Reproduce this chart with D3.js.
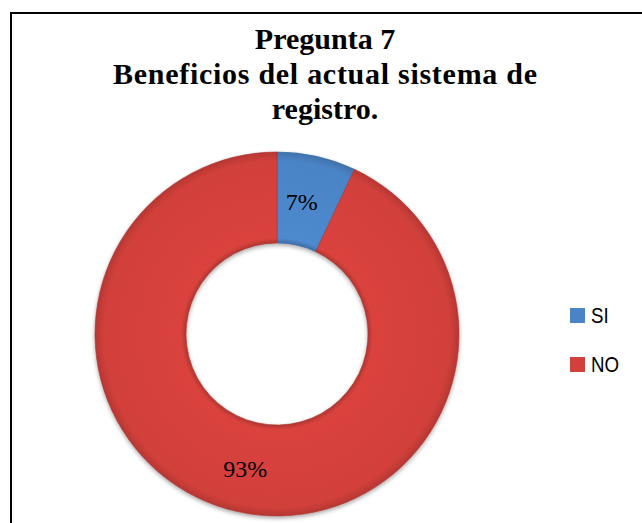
<!DOCTYPE html>
<html>
<head>
<meta charset="utf-8">
<script src="https://cdn.jsdelivr.net/npm/d3@7"></script>
<style>
  body { margin: 0; background: #fff; }
</style>
</head>
<body>
<script>
// chart data
var categories = ["SI", "NO"];
var values = [7, 93];
var labels = ["7%", "93%"];
var colors = ["#4a84c6", "#d2403b"];
var titleLines = ["Pregunta 7", "Beneficios del actual sistema de", "registro."];

var width = 642, height = 523;
var cx = 277, cy = 334;
var outerR = 182, innerR = 91;

var svg = d3.select("body").append("svg")
    .attr("width", width)
    .attr("height", height);

var defs = svg.append("defs");

// soft bevel: radial gradient across the ring thickness
categories.forEach(function(c, i) {
    var base = d3.color(colors[i]);
    var g = defs.append("radialGradient")
        .attr("id", "grad" + i)
        .attr("gradientUnits", "userSpaceOnUse")
        .attr("cx", 0).attr("cy", 0).attr("r", outerR);
    g.append("stop").attr("offset", innerR / outerR).attr("stop-color", base.darker(0.5));
    g.append("stop").attr("offset", (innerR + 5) / outerR).attr("stop-color", base.brighter(0.1));
    g.append("stop").attr("offset", 0.95).attr("stop-color", base);
    g.append("stop").attr("offset", 1).attr("stop-color", base.darker(0.4));
});

var shadow = defs.append("filter").attr("id", "shadow")
    .attr("x", "-10%").attr("y", "-10%").attr("width", "120%").attr("height", "120%");
shadow.append("feDropShadow")
    .attr("dx", 0).attr("dy", 2).attr("stdDeviation", 2)
    .attr("flood-color", "#000").attr("flood-opacity", 0.35);

// frame
svg.append("rect")
    .attr("x", 11).attr("y", 13)
    .attr("width", width + 10).attr("height", height + 10)
    .attr("fill", "none")
    .attr("stroke", "#000")
    .attr("stroke-width", 2);

// title
svg.append("g").selectAll("text")
    .data(titleLines)
    .enter().append("text")
    .attr("x", 325)
    .attr("y", function(d, i) { return 49 + i * 35; })
    .attr("text-anchor", "middle")
    .attr("font-family", "Liberation Serif, Times New Roman, serif")
    .attr("font-weight", "bold")
    .attr("font-size", 30)
    .attr("textLength", function(d, i) { return i === 1 ? 424 : null; })
    .text(function(d) { return d; });

var pie = d3.pie().sort(null).value(function(d) { return d; });
var arc = d3.arc().innerRadius(innerR).outerRadius(outerR);

var arcs = pie(values);

var g = svg.append("g")
    .attr("transform", "translate(" + cx + "," + cy + ")");

g.append("g").attr("filter", "url(#shadow)")
    .selectAll("path")
    .data(arcs)
    .enter().append("path")
    .attr("d", arc)
    .attr("fill", function(d, i) { return "url(#grad" + i + ")"; })
    .attr("stroke", function(d, i) { return d3.color(colors[i]).darker(0.6); })
    .attr("stroke-width", 0.6);

// labels
g.selectAll("text.lbl")
    .data(arcs)
    .enter().append("text")
    .attr("class", "lbl")
    .attr("transform", function(d, i) {
        var p = arc.centroid(d);
        return "translate(" + (p[0] - (i ? 2 : 5)) + "," + (p[1] + 1) + ")";
    })
    .attr("text-anchor", "middle")
    .attr("dy", "0.35em")
    .attr("font-family", "Liberation Serif, Times New Roman, serif")
    .attr("font-size", 24)
    .text(function(d, i) { return labels[i]; });

// legend
var legend = svg.append("g").attr("transform", "translate(570,308)");
var items = legend.selectAll("g")
    .data(categories)
    .enter().append("g")
    .attr("transform", function(d, i) { return "translate(0," + i * 49 + ")"; });
items.append("rect")
    .attr("width", 15).attr("height", 15)
    .attr("fill", function(d, i) { return colors[i]; });
items.append("text")
    .attr("transform", "translate(21,15) scale(0.85,1)")
    .attr("font-family", "Liberation Sans Narrow, Liberation Sans, sans-serif")
    .attr("font-size", 22)
    .text(function(d) { return d; });
</script>
</body>
</html>
